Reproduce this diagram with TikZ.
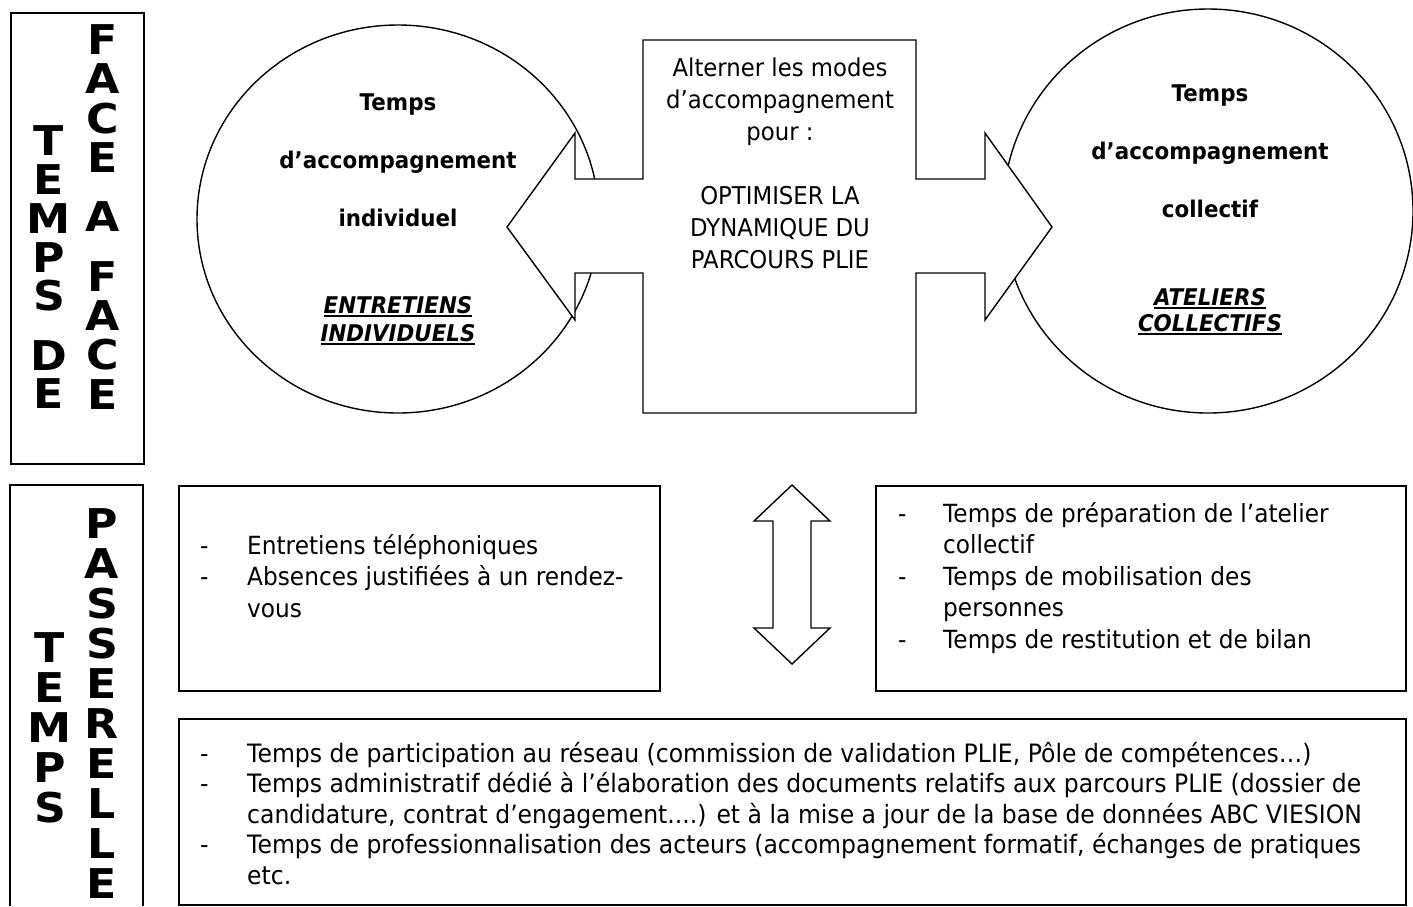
\documentclass[tikz,border=0pt]{standalone}
\usepackage{fontspec}
\usetikzlibrary{shapes.geometric}
\setmainfont{DejaVu Sans}[FakeStretch=0.93, BoldFont=DejaVu Sans Bold, ItalicFont=DejaVu Sans Oblique, BoldItalicFont=DejaVu Sans Bold Oblique]
\newfontfamily\bigfont{DejaVu Sans Bold}[FakeStretch=1.08]
\newcommand{\myul}[1]{\leavevmode\setbox0\hbox{#1}\rlap{\rule[-3.5pt]{\wd0}{1.8pt}}\box0}
\tikzset{
  frame/.style={draw=black, line width=1.5pt},
  boxst/.style={draw=black, line width=1.5pt, inner sep=0pt, anchor=north west},
  shapest/.style={draw=black, line width=1.4pt, fill=white},
  bigletter/.style={inner sep=0pt, anchor=base, font=\bigfont\fontsize{41}{41}\selectfont},
  boldtxt/.style={inner sep=0pt, anchor=base, font=\bfseries\fontsize{23}{28}\selectfont},
  bitxt/.style={inner sep=0pt, anchor=base, font=\bfseries\itshape\fontsize{23}{28}\selectfont},
  regtxt/.style={inner sep=0pt, anchor=base west, font=\fontsize{25}{31.5}\selectfont},
  bottxt/.style={inner sep=0pt, anchor=base west, font=\fontsize{25.3}{30.5}\selectfont},
  centxt/.style={inner sep=0pt, anchor=base, font=\fontsize{24.5}{32}\selectfont},
}
\begin{document}
\begin{tikzpicture}[x=1pt,y=-1pt]
\useasboundingbox (0,0) rectangle (1413,906);
\fill[white] (0,0) rectangle (1413,906);

% left frames
\node[boxst, minimum width=133pt, minimum height=451pt] (ftop) at (10,12) {};
\draw[frame] (10,906) -- (10,485) -- (143,485) -- (143,906);
\coordinate (fbot) at (76,485);

% vertical letters
\foreach \l/\y [count=\i] in {F/54, A/93, C/133, E/172, A/231, F/291, A/330, C/369, E/409}
  \node[bigletter] (fa\i) at (103,\y) {\l};
\foreach \l/\y [count=\i] in {T/155, E/194, M/233, P/272, S/310, D/370, E/408}
  \node[bigletter] (td\i) at (49,\y) {\l};
\foreach \l/\y [count=\i] in {P/538, A/578, S/618, S/658, E/698, R/738, E/778, L/818, L/858, E/898}
  \node[bigletter] (pa\i) at (102,\y) {\l};
\foreach \l/\y [count=\i] in {T/662, E/702, M/742, P/782, S/822}
  \node[bigletter] (tp\i) at (50,\y) {\l};

% circles
\node[shapest, ellipse, minimum width=402pt, minimum height=388pt, inner sep=0pt] (cl) at (398,219) {};
\node[shapest, ellipse, minimum width=410pt, minimum height=404pt, inner sep=0pt] (cr) at (1208,211) {};

% central double arrow
\draw[shapest] (507,227) -- (575,133) -- (575,179) -- (643,179) -- (643,40) -- (916,40)
  -- (916,179) -- (985,179) -- (985,133) -- (1052,227) -- (985,320) -- (985,273)
  -- (916,273) -- (916,413) -- (643,413) -- (643,273) -- (575,273) -- (575,320) -- cycle;
\node[centxt] (ctext) at (780,76) {\begin{tabular}[t]{@{}c@{}}Alterner les modes\\ d’accompagnement\\ pour :\\ \\ OPTIMISER LA\\ DYNAMIQUE DU\\ PARCOURS PLIE\end{tabular}};

% circle texts
\node[boldtxt] (l1) at (398,110) {Temps};
\node[boldtxt] (l2) at (398,168) {d’accompagnement};
\node[boldtxt] (l3) at (398,226) {individuel};
\node[bitxt] (l4) at (398,313) {\myul{ENTRETIENS}};
\node[bitxt] (l5) at (398,341) {\myul{INDIVIDUELS}};

\node[boldtxt] (r1) at (1210,101) {Temps};
\node[boldtxt] (r2) at (1210,159) {d’accompagnement};
\node[boldtxt] (r3) at (1210,217) {collectif};
\node[bitxt] (r4) at (1210,305) {\myul{ATELIERS}};
\node[bitxt] (r5) at (1210,331) {\myul{COLLECTIFS}};

% boxes
\node[boxst, minimum width=481pt, minimum height=205pt] (mbl) at (178,485) {};
\node[boxst, minimum width=530pt, minimum height=205pt] (mbr) at (875,485) {};
\node[boxst, minimum width=1227pt, minimum height=186pt] (bb) at (178,718) {};

\node[regtxt] (tl) at (200,554) {\begin{tabular}[t]{@{}p{47pt}@{}l@{}}-& Entretiens téléphoniques\\ -& Absences justifiées à un rendez-\\ & vous\end{tabular}};
\node[regtxt] (tr) at (898,522) {\begin{tabular}[t]{@{}p{45pt}@{}l@{}}-& Temps de préparation de l’atelier\\ & collectif\\ -& Temps de mobilisation des\\ & personnes\\ -& Temps de restitution et de bilan\end{tabular}};
\node[bottxt] (tb) at (200,762) {\begin{tabular}[t]{@{}p{47pt}@{}l@{}}-& Temps de participation au réseau (commission de validation PLIE, Pôle de compétences…)\\ -& Temps administratif dédié à l’élaboration des documents relatifs aux parcours PLIE (dossier de\\ & candidature, contrat d’engagement....) et à la mise a jour de la base de données ABC VIESION\\ -& Temps de professionnalisation des acteurs (accompagnement formatif, échanges de pratiques\\ & etc.\end{tabular}};

% vertical double arrow
\draw[shapest] (792,485) -- (830,521) -- (811,521) -- (811,628) -- (830,628) -- (792,664)
  -- (754,628) -- (773,628) -- (773,521) -- (754,521) -- cycle;
\end{tikzpicture}
\end{document}
